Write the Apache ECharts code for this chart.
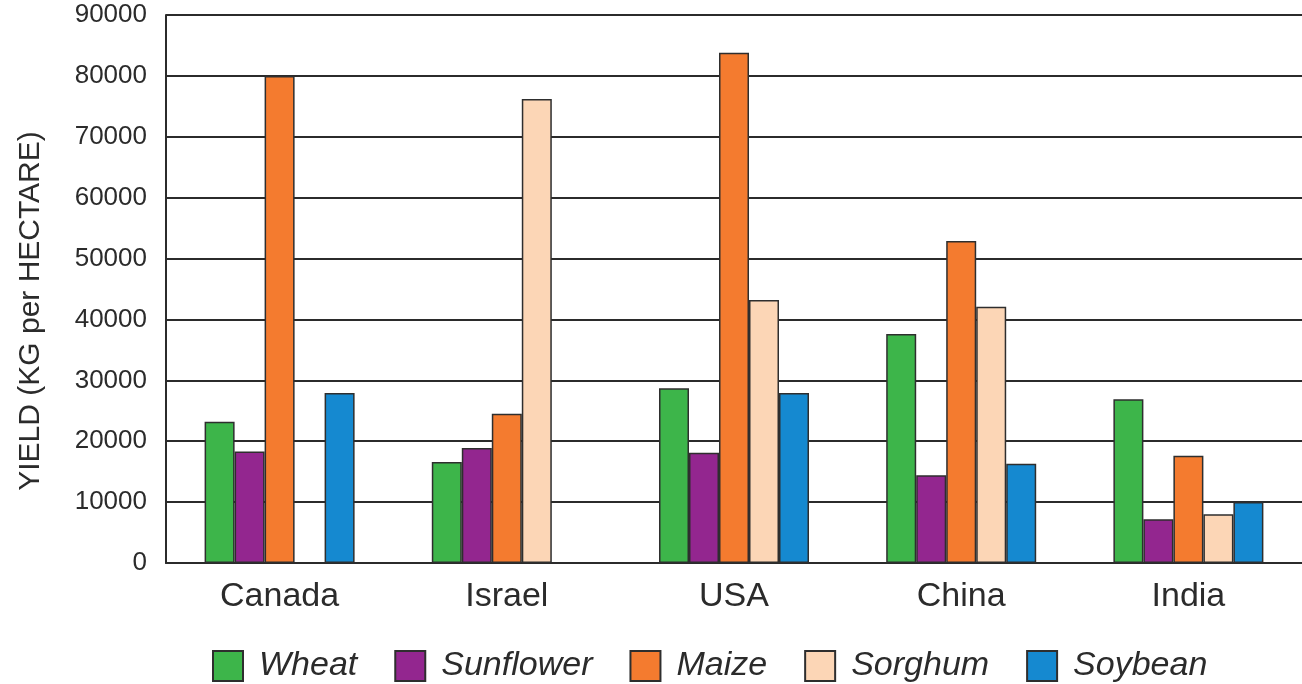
<!DOCTYPE html>
<html>
<head>
<meta charset="utf-8">
<script src="https://cdn.jsdelivr.net/npm/echarts@6/dist/echarts.min.js"></script>
<style>
  html, body { margin: 0; padding: 0; background: #ffffff; }
  #chart { width: 1302px; height: 684px; }
</style>
</head>
<body>
<div id="chart"></div>
<script>
// Crop yields by country (kg per hectare)
const countries = ['Canada', 'Israel', 'USA', 'China', 'India'];
const wheat     = [23200, 16600, 28700, 37600, 26900];
const sunflower = [18300, 18900, 18100, 14400, 7200];
const maize     = [80000, 24500, 83800, 52900, 17600];
const sorghum   = [null, 76200, 43200, 42100, 8000];
const soybean   = [27900, null, 27900, 16300, 10000];

const yTicks = { min: 0, max: 90000, step: 10000 };

const FONT = '"Liberation Sans", Arial, Helvetica, sans-serif';
const INK = '#2b2b2b';

const crops = [
  { name: 'Wheat',     data: wheat,     color: '#3db54a' },
  { name: 'Sunflower', data: sunflower, color: '#93268f' },
  { name: 'Maize',     data: maize,     color: '#f47b2f' },
  { name: 'Sorghum',   data: sorghum,   color: '#fcd6b6' },
  { name: 'Soybean',   data: soybean,   color: '#1589d0' }
];

const chart = echarts.init(document.getElementById('chart'), null, { renderer: 'canvas' });

chart.setOption({
  backgroundColor: '#ffffff',
  animation: false,
  grid: { left: 166, top: 15, right: 0, bottom: 121, containLabel: false },
  legend: {
    left: 212,
    top: 649,
    padding: 0,
    itemWidth: 30,
    itemHeight: 30,
    itemGap: 37,
    icon: 'rect',
    textStyle: {
      fontFamily: FONT,
      fontSize: 34,
      fontStyle: 'italic',
      color: INK,
      padding: [0, 0, 0, 11]
    },
    data: crops.map(c => c.name)
  },
  xAxis: {
    type: 'category',
    data: countries,
    axisLine: { show: true, lineStyle: { color: INK, width: 2 } },
    axisTick: { show: false },
    axisLabel: { fontFamily: FONT, fontSize: 34, color: INK, margin: 17 },
    splitLine: { show: false }
  },
  yAxis: {
    type: 'value',
    min: yTicks.min,
    max: yTicks.max,
    interval: yTicks.step,
    name: 'YIELD (KG per HECTARE)',
    nameLocation: 'middle',
    nameGap: 120,
    nameRotate: 90,
    nameTextStyle: { fontFamily: FONT, fontSize: 30, color: INK, padding: [0, 44, 0, 0] },
    axisLine: { show: true, lineStyle: { color: INK, width: 2 } },
    axisTick: { show: false },
    axisLabel: {
      fontFamily: FONT, fontSize: 26, color: INK, margin: 19,
      formatter: v => String(v)
    },
    splitLine: { show: true, lineStyle: { color: INK, width: 2 } }
  },
  series: crops.map(c => ({
    name: c.name,
    type: 'bar',
    data: c.data,
    barWidth: 30,
    barGap: '0%',
    itemStyle: { color: c.color, borderColor: '#2e2e2e', borderWidth: 1.5 }
  }))
});
</script>
</body>
</html>
